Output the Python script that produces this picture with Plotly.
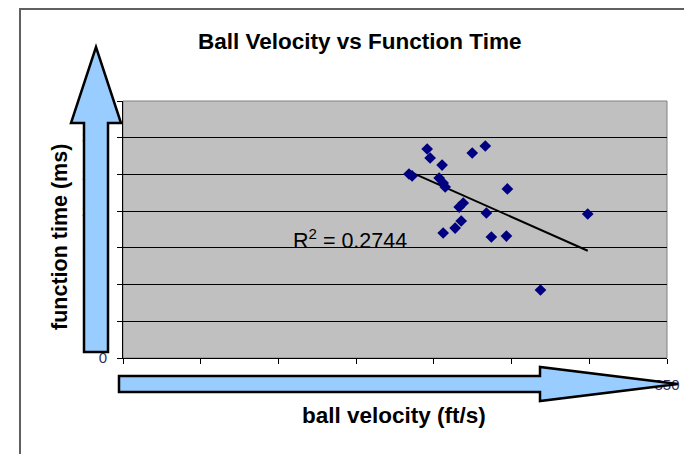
import numpy as np
import plotly.graph_objects as go

# ---- data ----
ball_velocity = [184.0, 186.0, 195.7, 197.6, 205.3, 203.4, 206.0, 207.3, 224.7, 233.1,
                 247.3, 218.9, 216.3, 217.6, 213.7, 206.0, 233.8, 237.0, 246.7, 299.0, 268.6]
function_time = [250.6, 247.9, 284.6, 272.4, 262.8, 245.1, 238.3, 232.9, 279.2, 288.7,
                 230.2, 211.1, 205.6, 186.6, 177.0, 170.2, 197.5, 164.8, 166.1, 196.1, 92.6]
x_ticks = [0, 50, 100, 150, 200, 250, 300, 350]
y_ticks = [0, 50, 100, 150, 200, 250, 300, 350]
r_squared_text = "R<sup>2</sup> = 0.2744"

# ---- layout geometry (pixels) ----
W, H = 684, 454
L, R, T, B = 123, 667, 101, 358
FONT = "Liberation Sans, Arial, sans-serif"


def px(x):
    return (x - L) / (R - L)


def py(y):
    return (B - y) / (B - T)


def path(points):
    return "M " + " L ".join(f"{px(a):.5f},{py(b):.5f}" for a, b in points) + " Z"


# linear trendline from the data
xs = np.array(ball_velocity)
ys = np.array(function_time)
slope, intercept = np.polyfit(xs, ys, 1)
tx = np.array([xs.min(), xs.max()])
ty = slope * tx + intercept

fig = go.Figure()
fig.add_trace(go.Scatter(x=tx, y=ty, mode="lines",
                         line=dict(color="black", width=2), hoverinfo="skip"))
fig.add_trace(go.Scatter(x=ball_velocity, y=function_time, mode="markers",
                         marker=dict(symbol="diamond", size=9, color="#000080",
                                     line=dict(width=0))))

axis_common = dict(zeroline=False, ticks="outside", ticklen=5, automargin=False,
                   tickcolor="black", tickwidth=1, showline=True, linecolor="black",
                   linewidth=1, tickfont=dict(family=FONT, size=15, color="#303060"))

fig.update_layout(
    width=W, height=H, autosize=False,
    margin=dict(l=L, r=W - R, t=T, b=H - B, pad=0, autoexpand=False),
    paper_bgcolor="white", plot_bgcolor="#C0C0C0",
    showlegend=False,
    xaxis=dict(range=[0, 350], tickvals=x_ticks, ticktext=[str(v) for v in x_ticks],
               ticklabelstandoff=8, showgrid=False, **axis_common),
    yaxis=dict(range=[0, 350], tickvals=y_ticks, ticktext=[str(v) for v in y_ticks],
               ticklabelstandoff=7, showgrid=True, gridcolor="black", gridwidth=1,
               **axis_common),
)

shapes = []
# plot-area border (gray)
shapes.append(dict(type="rect", xref="paper", yref="paper", x0=0, y0=0, x1=1, y1=1,
                   line=dict(color="#808080", width=1), layer="below"))
# outer chart frame (left and top edges)
shapes.append(dict(type="path", xref="paper", yref="paper",
                   path="M " + f"{px(20):.5f},{py(454):.5f} L {px(20):.5f},{py(9):.5f} L {px(690):.5f},{py(9):.5f}",
                   line=dict(color="#606060", width=2), layer="above"))
# vertical arrow
shapes.append(dict(type="path", xref="paper", yref="paper",
                   path=path([(84, 352), (108, 352), (108, 123), (121, 123), (96, 47),
                              (71, 123), (84, 123)]),
                   fillcolor="#99CCFF", line=dict(color="black", width=2.5), layer="above"))
# horizontal arrow
shapes.append(dict(type="path", xref="paper", yref="paper",
                   path=path([(119, 376), (540, 376), (540, 367), (678, 384), (540, 401),
                              (540, 392), (119, 392)]),
                   fillcolor="#99CCFF", line=dict(color="black", width=2.5), layer="above"))
fig.update_layout(shapes=shapes)

annotations = [
    dict(text="<b>Ball Velocity vs Function Time</b>", x=px(359), y=py(42),
         font=dict(family=FONT, size=22.5, color="black")),
    dict(text="<b>ball velocity (ft/s)</b>", x=px(394), y=py(415),
         font=dict(family=FONT, size=22.5, color="black")),
    dict(text="<b>function time (ms)</b>", x=px(60), y=py(237), textangle=-90,
         font=dict(family=FONT, size=21.5, color="black")),
    dict(text=r_squared_text, x=px(350), y=py(239),
         font=dict(family=FONT, size=21.5, color="black")),
]
for a in annotations:
    a.update(xref="paper", yref="paper", showarrow=False, xanchor="center", yanchor="middle")
fig.update_layout(annotations=annotations)

fig.write_html("out.html")
